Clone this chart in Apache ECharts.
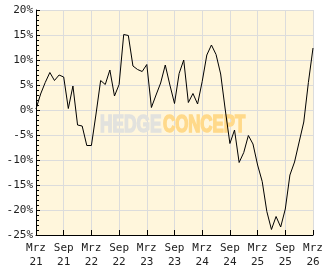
<!DOCTYPE html>
<html><head><meta charset="utf-8">
<script src="https://cdn.jsdelivr.net/npm/echarts@6/dist/echarts.min.js"></script>
<style>html,body{margin:0;padding:0;background:#fff}#c{width:332px;height:269px}</style>
</head><body><div id="c"></div>
<script>
const xTickLabels = ['Mrz\n21','Sep\n21','Mrz\n22','Sep\n22','Mrz\n23','Sep\n23','Mrz\n24','Sep\n24','Mrz\n25','Sep\n25','Mrz\n26'];
const yTickLabels = ['-25%','-20%','-15%','-10%','-5%','0%','5%','10%','15%','20%'];
const perfValues = [0.2,3.2,5.5,7.5,5.9,7.0,6.6,0.3,4.8,-3.0,-3.2,-7.1,-7.1,-0.8,5.9,5.1,8.0,2.8,5.1,15.1,14.9,8.8,8.1,7.7,9.1,0.5,3.0,5.4,9.0,5.0,1.3,7.3,10.0,1.5,3.3,1.2,5.7,11.0,13.0,11.1,7.2,0,-6.7,-4.0,-10.5,-8.5,-5.1,-6.8,-11.0,-14.3,-20.3,-23.9,-21.3,-23.4,-19.8,-13.0,-10.4,-6.4,-2.4,5.5,12.4];

const chart = echarts.init(document.getElementById('c'));
const font = 'DejaVu Sans Mono';
chart.setOption({
  animation: false,
  backgroundColor: '#fff',
  grid: {left: 36, right: 19, top: 10, bottom: 32, show: true, backgroundColor: '#FFF6DC', borderWidth: 0},
  graphic: [
    {type: 'text', z: 1, x: 100, y: 113, scaleX: 0.72, style: {text: 'HEDGE', font: 'bold 24px "Liberation Sans"', fill: '#E2E2DE', stroke: '#E2E2DE', lineWidth: 1.6, verticalAlign: 'top'}},
    {type: 'text', z: 1, x: 163, y: 113, scaleX: 0.7, style: {text: 'CONCEPT', font: 'bold 24px "Liberation Sans"', fill: '#FFD98A', stroke: '#FFD98A', lineWidth: 1.6, verticalAlign: 'top'}}
  ],
  xAxis: {
    type: 'value', min: 0, max: 60, interval: 6,
    axisLine: {show: true, onZero: false, lineStyle: {color: '#000', width: 1}},
    axisTick: {show: true, inside: true, length: 5, lineStyle: {color: '#000'}},
    splitLine: {show: true, lineStyle: {color: '#DCDCDC', width: 1}},
    axisLabel: {
      formatter: v => xTickLabels[Math.round(v / 6)] || '',
      color: '#222', fontFamily: font, fontSize: 11, lineHeight: 14, margin: 6
    }
  },
  yAxis: {
    type: 'value', min: -25, max: 20, interval: 5,
    axisLine: {show: true, onZero: false, lineStyle: {color: '#000', width: 1}},
    axisTick: {show: true, inside: true, length: 4, lineStyle: {color: '#000'}},
    minorTick: {show: true, splitNumber: 5, length: 3, lineStyle: {color: '#000'}},
    splitLine: {show: true, lineStyle: {color: '#DCDCDC', width: 1}},
    axisLabel: {
      formatter: v => yTickLabels[Math.round((v + 25) / 5)] || '',
      color: '#222', fontFamily: font, fontSize: 11, margin: 3
    }
  },
  series: [{
    type: 'line', z: 3, symbol: 'none',
    data: perfValues.map((v, i) => [i, v]),
    lineStyle: {color: '#000', width: 1}
  }]
});
</script></body></html>
